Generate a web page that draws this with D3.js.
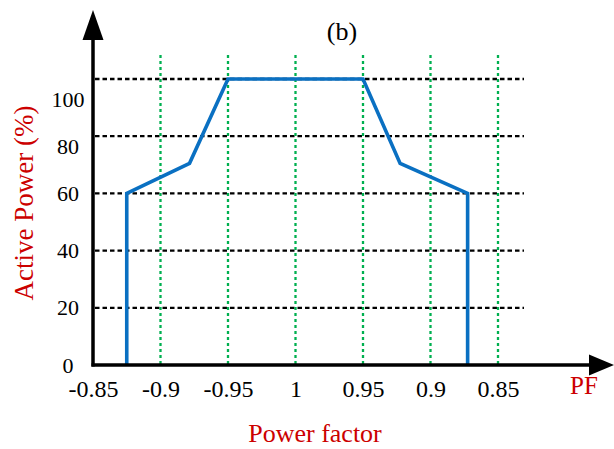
<!DOCTYPE html>
<html>
<head>
<meta charset="utf-8">
<script src="https://cdn.jsdelivr.net/npm/d3@7"></script>
<style>
  body { margin: 0; background: #fff; }
  svg { display: block; font-family: "Liberation Serif", "Times New Roman", serif; }
</style>
</head>
<body>
<div class="chart"></div>
<script>
// power factor labels along the x axis (one per grid step)
const pfLabels = ["-0.85", "-0.9", "-0.95", "1", "0.95", "0.9", "0.85"];
const pfSteps = [0, 1, 2, 3, 4, 5, 6];
const greenGrid = [1, 2, 3, 4, 5, 6];

// active power (%)
const powerTicks = [0, 20, 40, 60, 80, 100];
const powerTickAt = [0, 20, 40, 60, 76.5, 93];   // where the labels sit in the figure
const blackGrid = [20, 40, 60, 80, 100];

// capability curve, x in grid steps, y in %
const curveX = [0.5, 0.5, 1.43, 2, 4, 4.55, 5.55, 5.55];
const curveY = [0, 60, 70.5, 100, 100, 70.5, 60, 0];

function draw() {
  const w = 614,
    h = 449,
    x0 = 93,
    y0 = 365;

  const svg = d3.select(".chart")
    .append("svg")
    .attr("width", w)
    .attr("height", h);

  const x = d3.scaleLinear().domain([0, 6]).range([x0, 498]);
  const y = d3.scaleLinear().domain([0, 100]).range([y0, 79]);

  // black horizontal dashed grid
  svg.selectAll(".hgrid")
    .data(blackGrid)
    .enter()
    .append("line")
    .attr("class", "hgrid")
    .attr("x1", x0 + 2)
    .attr("x2", 524)
    .attr("y1", function (d) { return y(d); })
    .attr("y2", function (d) { return y(d); })
    .attr("stroke", "#000")
    .attr("stroke-width", 2.3)
    .attr("stroke-dasharray", "4.5,3");

  // green vertical dotted grid
  svg.selectAll(".vgrid")
    .data(greenGrid)
    .enter()
    .append("line")
    .attr("class", "vgrid")
    .attr("x1", function (d) { return x(d); })
    .attr("x2", function (d) { return x(d); })
    .attr("y1", 55)
    .attr("y2", y0)
    .attr("stroke", "#00b050")
    .attr("stroke-width", 2.3)
    .attr("stroke-dasharray", "3,3");

  // curve
  const pts = curveX.map(function (d, i) { return [d, curveY[i]]; });
  const line = d3.line()
    .x(function (d) { return x(d[0]); })
    .y(function (d) { return y(d[1]); });

  svg.append("path")
    .datum(pts)
    .attr("d", line)
    .attr("fill", "none")
    .attr("stroke", "#0a70c2")
    .attr("stroke-width", 3.6)
    .attr("stroke-linejoin", "miter");

  // axes with arrows
  svg.append("line")
    .attr("x1", x0).attr("x2", x0)
    .attr("y1", y0 + 1.5).attr("y2", 38)
    .attr("stroke", "#000").attr("stroke-width", 3.5);
  svg.append("path")
    .attr("d", "M" + x0 + ",10 L" + (x0 - 10.5) + ",40 L" + (x0 + 10.5) + ",40 Z")
    .attr("fill", "#000");

  svg.append("line")
    .attr("x1", x0 - 1.5).attr("x2", 590)
    .attr("y1", y0).attr("y2", y0)
    .attr("stroke", "#000").attr("stroke-width", 3.5);
  svg.append("path")
    .attr("d", "M614," + y0 + " L589," + (y0 - 10.5) + " L589," + (y0 + 10.5) + " Z")
    .attr("fill", "#000");

  // x tick labels
  const xAxis = d3.axisBottom(x)
    .tickValues(pfSteps)
    .tickFormat(function (d, i) { return pfLabels[i]; })
    .tickSize(0)
    .tickPadding(0);

  const gx = svg.append("g")
    .attr("transform", "translate(0," + 397 + ")")
    .call(xAxis);
  gx.select(".domain").remove();
  gx.selectAll("text")
    .attr("dy", 0)
    .attr("y", 0)
    .attr("fill", "#000")
    .style("font-family", "Liberation Serif")
    .style("font-size", "24px");

  // y tick labels
  svg.selectAll(".ylab")
    .data(powerTicks)
    .enter()
    .append("text")
    .attr("class", "ylab")
    .attr("x", 68)
    .attr("y", function (d, i) { return y(powerTickAt[i]) + 7.5; })
    .attr("text-anchor", "middle")
    .style("font-size", "22px")
    .text(function (d) { return d; });

  // titles
  svg.append("text")
    .attr("x", 342)
    .attr("y", 40)
    .attr("text-anchor", "middle")
    .style("font-size", "26px")
    .text("(b)");

  svg.append("text")
    .attr("transform", "translate(33,203) rotate(-90)")
    .attr("text-anchor", "middle")
    .attr("fill", "#cc0000")
    .style("font-size", "27px")
    .text("Active Power (%)");

  svg.append("text")
    .attr("x", 315)
    .attr("y", 442)
    .attr("text-anchor", "middle")
    .attr("fill", "#cc0000")
    .style("font-size", "26px")
    .text("Power factor");

  svg.append("text")
    .attr("x", 584)
    .attr("y", 394)
    .attr("text-anchor", "middle")
    .attr("fill", "#cc0000")
    .style("font-size", "25px")
    .text("PF");
}

draw();
</script>
</body>
</html>
